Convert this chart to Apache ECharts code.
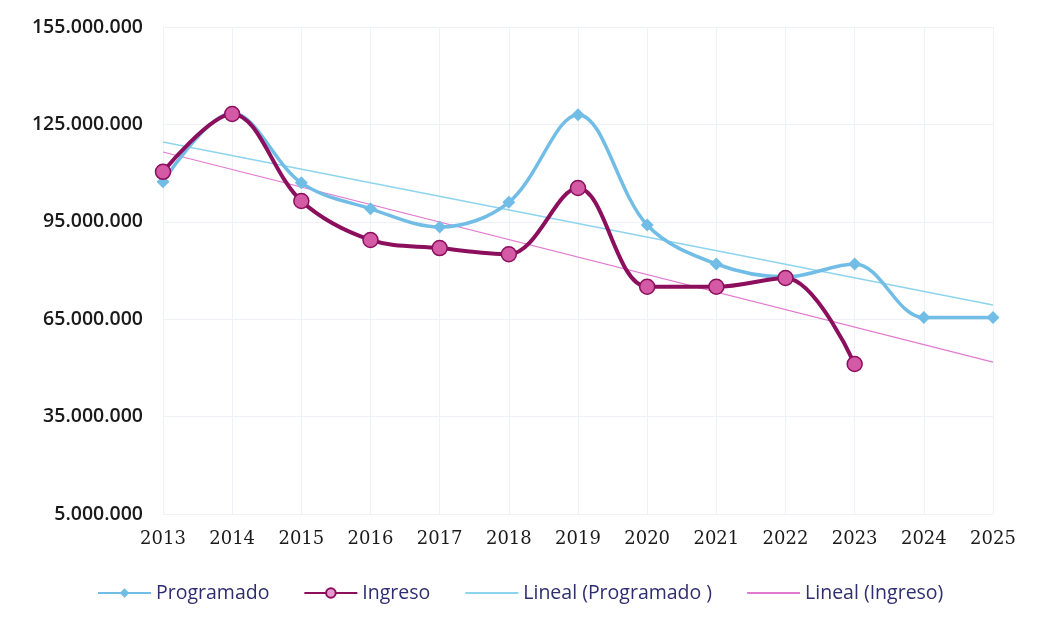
<!DOCTYPE html>
<html>
<head>
<meta charset="utf-8">
<script src="https://cdn.jsdelivr.net/npm/echarts@6/dist/echarts.min.js"></script>
<style>
  html, body { margin: 0; padding: 0; background: #fff; }
  #chart { width: 1037px; height: 625px; }
</style>
</head>
<body>
<div id="chart"></div>
<script>
// data
const years = ['2013', '2014', '2015', '2016', '2017', '2018', '2019', '2020', '2021', '2022', '2023', '2024', '2025']
const programado = [107300000, 128500000, 107000000, 99000000, 93400000, 101000000, 128000000, 94000000, 82000000, 78000000, 82000000, 65500000, 65500000]
const ingreso = [110400000, 128200000, 101400000, 89400000, 86900000, 85000000, 105400000, 75000000, 75000000, 77700000, 51200000]
// trend line ends (2013 and 2025)
const trendProgramado = [119600000, 69400000]
const trendIngreso = [116500000, 51800000]

function trendData(ends) {
  const d = years.map(() => null)
  d[0] = ends[0]
  d[d.length - 1] = ends[1]
  return d
}

function fmt(v) {
  return String(v).replace(/\B(?=(\d{3})+(?!\d))/g, '.')
}

const chart = echarts.init(document.getElementById('chart'))
chart.setOption({
  animation: false,
  grid: { left: 163, right: 44, top: 27, bottom: 111 },
  legend: {
    bottom: 22,
    left: 97,
    padding: 0,
    itemWidth: 53,
    itemHeight: 12,
    itemGap: 34,
    textStyle: { color: '#2e2e70', fontSize: 19.5, fontFamily: 'Open Sans' },
    data: [
      { name: 'Programado' },
      { name: 'Ingreso', itemStyle: { color: '#e89ad0' } },
      { name: 'Lineal (Programado )', itemStyle: { opacity: 0 } },
      { name: 'Lineal (Ingreso)', itemStyle: { opacity: 0 } }
    ]
  },
  xAxis: {
    type: 'category',
    boundaryGap: false,
    data: years,
    axisLine: { show: false },
    axisTick: { show: false },
    axisLabel: {
      color: '#1a1a1a',
      fontSize: 18,
      fontFamily: 'DejaVu Serif',
      margin: 16
    },
    splitLine: { show: true, lineStyle: { color: '#eef1f6', width: 1 } }
  },
  yAxis: {
    type: 'value',
    min: 5000000,
    max: 155000000,
    interval: 30000000,
    axisLine: { show: false },
    axisTick: { show: false },
    axisLabel: {
      color: '#1a1a1a',
      fontSize: 19.5,
      fontWeight: 600,
      fontFamily: 'Open Sans',
      margin: 20,
      formatter: fmt
    },
    splitLine: { lineStyle: { color: '#eef1f6', width: 1 } }
  },
  series: [
    {
      name: 'Programado',
      type: 'line',
      data: programado,
      smooth: 0.35,
      symbol: 'diamond',
      symbolSize: 13,
      lineStyle: { color: '#72bde6', width: 3.5 },
      itemStyle: { color: '#72bde6' },
      z: 3
    },
    {
      name: 'Ingreso',
      type: 'line',
      data: ingreso,
      smooth: 0.35,
      symbol: 'circle',
      symbolSize: 15,
      lineStyle: { color: '#8c0f5e', width: 4 },
      itemStyle: { color: '#d45aa6', borderColor: '#8c0f5e', borderWidth: 1.5 },
      z: 4
    },
    {
      name: 'Lineal (Programado )',
      type: 'line',
      data: trendData(trendProgramado),
      connectNulls: true,
      symbol: 'none',
      lineStyle: { color: '#8fd4ee', width: 1.5 },
      itemStyle: { color: '#8fd4ee' },
      z: 2
    },
    {
      name: 'Lineal (Ingreso)',
      type: 'line',
      data: trendData(trendIngreso),
      connectNulls: true,
      symbol: 'none',
      lineStyle: { color: '#e27ad0', width: 1.2 },
      itemStyle: { color: '#e27ad0' },
      z: 2
    }
  ]
})
</script>
</body>
</html>
